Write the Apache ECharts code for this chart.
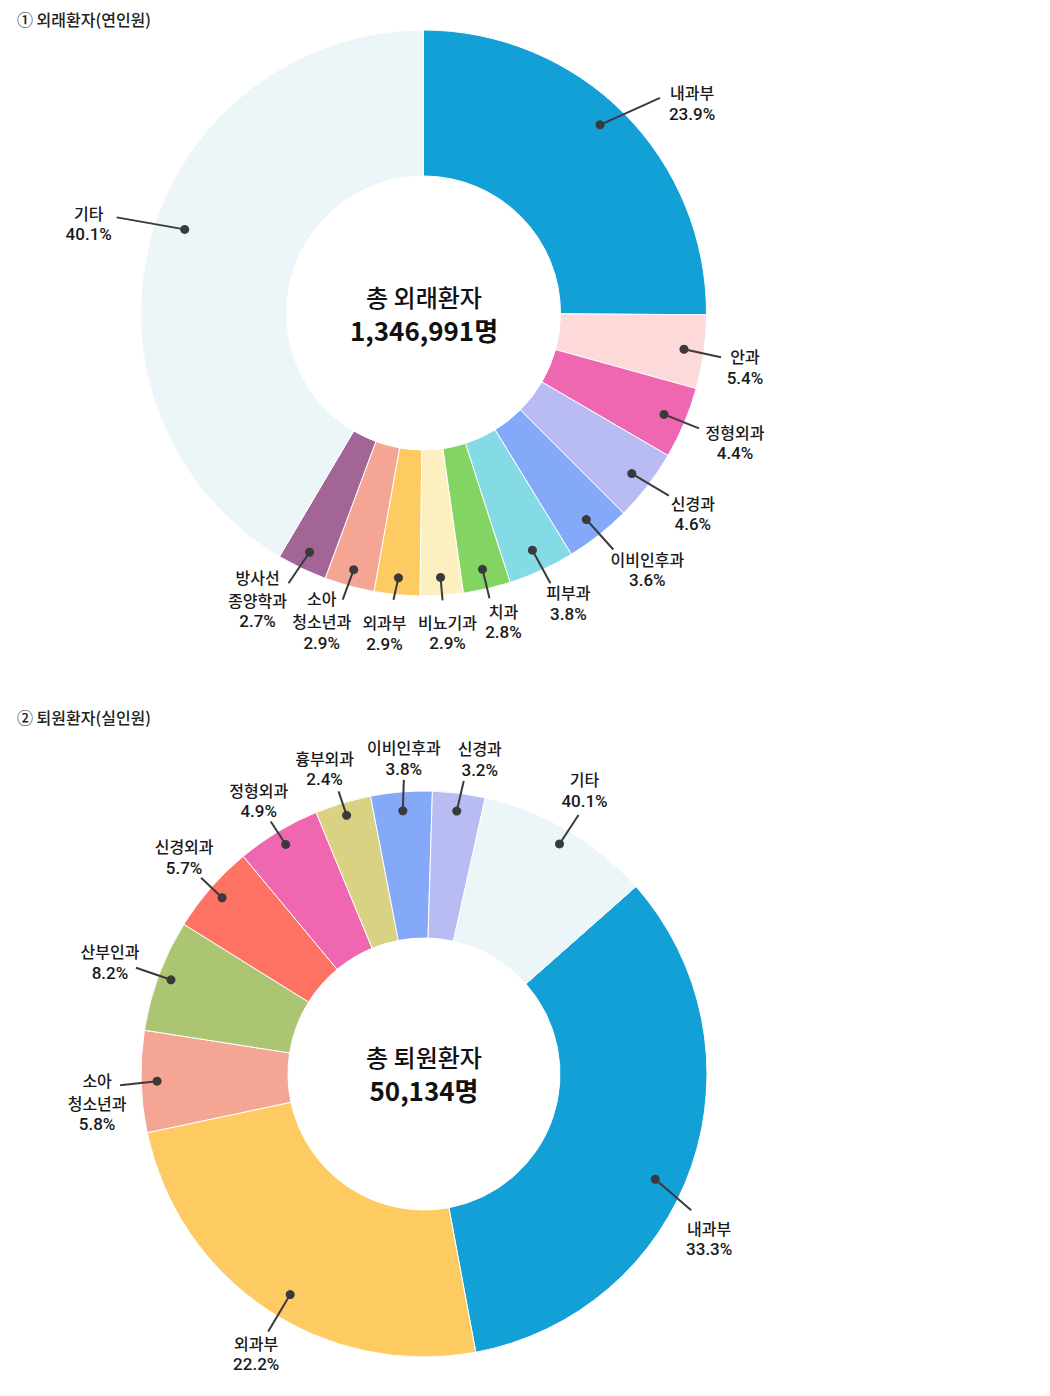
<!DOCTYPE html>
<html><head><meta charset="utf-8">
<script src="https://cdn.jsdelivr.net/npm/echarts@6/dist/echarts.min.js"></script>
<style>html,body{margin:0;padding:0;background:#fff}#c{width:1050px;height:1396px}</style>
</head><body><div id="c"></div>
<script>
// ---------- data ----------
// ① 외래환자(연인원)
const outNames = ['내과부','안과','정형외과','신경과','이비인후과','피부과','치과','비뇨기과','외과부','소아\n청소년과','방사선\n종양학과','기타'];
const outShare = [25.1, 4.2, 4.1, 4.1, 3.75, 3.8, 2.7, 2.45, 2.6, 2.85, 2.85, 41.5];   // drawn slice sizes
const outLabelPct = [23.9, 5.4, 4.4, 4.6, 3.6, 3.8, 2.8, 2.9, 2.9, 2.9, 2.7, 40.1];    // printed labels
const outTotal = '1,346,991명';
// ② 퇴원환자(실인원)
const inNames = ['내과부','외과부','소아\n청소년과','산부인과','신경외과','정형외과','흉부외과','이비인후과','신경과','기타'];
const inShare = [33.6, 24.6, 5.8, 6.4, 5.1, 4.8, 3.2, 3.5, 3.0, 10.0];
const inLabelPct = [33.3, 22.2, 5.8, 8.2, 5.7, 4.9, 2.4, 3.8, 3.2, 40.1];
const inTotal = '50,134명';

// ---------- styles ----------
const FONT = '"Noto Sans CJK KR","Noto Sans",sans-serif';
const NUMFONT = 'Roboto,"Noto Sans",sans-serif';
const outColors = ['#12a0d7','#fed9d9','#ef67b1','#b8bcf3','#85a9f9','#84dbe5','#84d464','#fdf0c0','#fecb62','#f4a593','#a36496','#ecf5f8'];
const inColors  = ['#12a0d7','#fecb62','#f4a593','#abc572','#fe7263','#ef67b1','#d8d282','#85a9f9','#b8bcf3','#ecf5f8'];
// annotation layout: dot radius, angle tweak (deg), line end offset, text centre offset (px, from dot)
const outAnn = [
  {r:258, da:-2, line:[60,-27], text:[92,-22]},
  {r:263, da:0, line:[37,8],  text:[61,18]},
  {r:261, da:0, line:[35,14], text:[71,28]},
  {r:263, da:0, line:[37,22], text:[61,40]},
  {r:263, da:0, line:[27,30], text:[61,50]},
  {r:261, da:0, line:[18,33], text:[36,53]},
  {r:263, da:0, line:[7,29],  text:[21,52]},
  {r:265, da:0, line:[2,23],  text:[7,55]},
  {r:266, da:0, line:[-5,22], text:[-14,55]},
  {r:266, da:0, line:[-11,30],text:[-32,51]},
  {r:265, da:0, line:[-21,31],text:[-52,47]},
  {r:253, da:4, line:[-68,-12],text:[-96,-6]}
];
const inAnn = [
  {r:254, da:5.5, line:[36,31], text:[54,59]},
  {r:258, da:-2.5, line:[-22,37], text:[-34,59]},
  {r:267, da:0, line:[-37,4],  text:[-60,21]},
  {r:270, da:0, line:[-35,-12],text:[-61,-18]},
  {r:268, da:0, line:[-21,-20],text:[-38,-41]},
  {r:268, da:0, line:[-15,-23],text:[-27,-44]},
  {r:270, da:0, line:[-8,-24], text:[-22,-47]},
  {r:264, da:0, line:[1,-31],  text:[1,-53]},
  {r:265, da:0, line:[7,-30],  text:[23,-52]},
  {r:267, da:0, line:[19,-29], text:[25,-54]}
];

const charts = [
  {names:outNames, share:outShare, pct:outLabelPct, colors:outColors, ann:outAnn, center:[423.5,313], inner:137, outer:283, start:90},
  {names:inNames, share:inShare, pct:inLabelPct, colors:inColors, ann:inAnn, center:[424,1074], inner:136, outer:283, start:41.5}
];

function labelTexts(name, pct, cx, cy) {
  // stacked lines: Korean lines (gap 23 between them), then the percentage (gap 21.5)
  const parts = name.split('\n');
  const ys = []; let y = 0;
  parts.forEach((p, k) => { ys.push(y); y += (k < parts.length - 1) ? 23 : 21.5; });
  ys.push(y);
  const off = y / 2;
  const els = parts.map((p, k) => ({type:'text', x:cx, y:cy + ys[k] - off,
    style:{text:p, fill:'#1a1a1a', font:'500 16px ' + FONT, align:'center', verticalAlign:'middle'}}));
  els.push({type:'text', x:cx, y:cy + ys[parts.length] - off,
    style:{text:pct.toFixed(1) + '%', fill:'#1a1a1a', font:'500 17px ' + NUMFONT, align:'center', verticalAlign:'middle'}});
  return els;
}

const polar = [], angleAxis = [], radiusAxis = [], series = [];
charts.forEach((c, ci) => {
  const total = c.share.reduce((a,b)=>a+b,0);
  polar.push({center:c.center, radius:[0, c.outer]});
  angleAxis.push({polarIndex:ci, type:'value', min:0, max:total, startAngle:c.start, clockwise:true, show:false});
  radiusAxis.push({polarIndex:ci, type:'value', min:0, max:c.outer, show:false});
  series.push({
    type:'pie', center:c.center, radius:[c.inner, c.outer], startAngle:c.start, clockwise:true,
    silent:true, label:{show:false}, labelLine:{show:false}, avoidLabelOverlap:false,
    itemStyle:{borderColor:'#ffffff', borderWidth:1},
    data:c.names.map((n,i)=>({name:n, value:c.share[i], itemStyle:{color:c.colors[i]}}))
  });
  let cum = 0;
  const annData = c.share.map((v,i)=>{ const mid = cum + v/2 + c.ann[i].da/360*total; cum += v; return [c.ann[i].r, mid, i]; });
  series.push({
    type:'custom', coordinateSystem:'polar', polarIndex:ci, z:10, silent:true,
    data:annData,
    renderItem:(params, api)=>{
      const i = api.value(2);
      const p = api.coord([api.value(0), api.value(1)]);
      const a = c.ann[i];
      const e = [p[0]+a.line[0], p[1]+a.line[1]];
      const t = [p[0]+a.text[0], p[1]+a.text[1]];
      return {type:'group', children:[
        {type:'line', shape:{x1:p[0], y1:p[1], x2:e[0], y2:e[1]}, style:{stroke:'#3a3a3c', lineWidth:2}},
        {type:'circle', shape:{cx:p[0], cy:p[1], r:4.5}, style:{fill:'#3a3a3c'}}
      ].concat(labelTexts(c.names[i], c.pct[i], t[0], t[1]))};
    }
  });
});

const chart = echarts.init(document.getElementById('c'), null, {renderer:'svg', width:1050, height:1396});
const secStyle = {fontSize:16, fontWeight:500, color:'#222', fontFamily:FONT, lineHeight:20};
const cTitle = {fontSize:24, fontWeight:500, color:'#111', fontFamily:FONT, lineHeight:28};
const cSub = {fontSize:26, fontWeight:'bold', color:'#111', fontFamily:FONT, lineHeight:32};
chart.setOption({
  animation:false,
  backgroundColor:'#ffffff',
  title:[
    {text:'① 외래환자(연인원)', left:17, top:9, padding:0, textStyle:secStyle},
    {text:'② 퇴원환자(실인원)', left:17, top:707, padding:0, textStyle:secStyle},
    {text:'총 외래환자', subtext:outTotal, left:424, textAlign:'center', top:282, padding:0, itemGap:3, textStyle:cTitle, subtextStyle:cSub},
    {text:'총 퇴원환자', subtext:inTotal, left:424, textAlign:'center', top:1042, padding:0, itemGap:3, textStyle:cTitle, subtextStyle:cSub}
  ],
  polar, angleAxis, radiusAxis, series
});
</script></body></html>
